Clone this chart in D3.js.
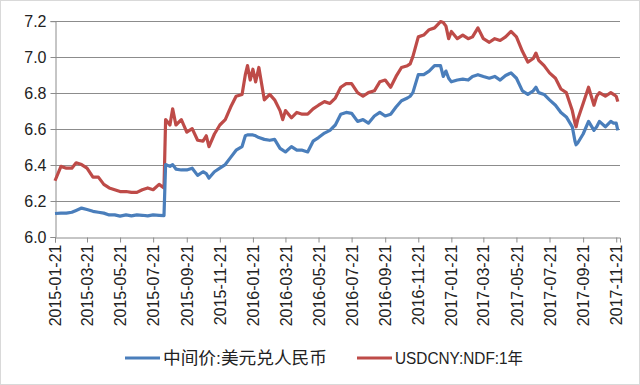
<!DOCTYPE html>
<html>
<head>
<meta charset="utf-8">
<script src="https://cdn.jsdelivr.net/npm/d3@7/dist/d3.min.js"></script>
<style>
  body { margin: 0; background: #fff; }
  svg { display: block; }
</style>
</head>
<body>
<div id="chart"></div>
<script>
(function () {
  const Blue = "#4a7ebb";
  const Red = "#be4b48";

  // dates of the samples (roughly every 10 days)
  const dates = [
    "2015-01-21", "2015-02-01", "2015-02-11", "2015-02-21", "2015-03-01", "2015-03-11", "2015-03-21",
    "2015-04-01", "2015-04-11", "2015-04-21", "2015-05-01", "2015-05-11", "2015-05-21",
    "2015-06-01", "2015-06-11", "2015-06-21", "2015-07-01", "2015-07-11", "2015-07-21",
    "2015-08-01", "2015-08-10", "2015-08-13", "2015-08-21", "2015-08-26", "2015-09-01", "2015-09-11", "2015-09-21",
    "2015-10-01", "2015-10-11", "2015-10-21", "2015-10-27", "2015-11-01", "2015-11-11", "2015-11-21",
    "2015-12-01", "2015-12-11", "2015-12-21",
    "2016-01-01", "2016-01-07", "2016-01-11", "2016-01-16", "2016-01-21", "2016-01-26",
    "2016-02-01", "2016-02-11", "2016-02-21", "2016-03-01", "2016-03-11", "2016-03-16", "2016-03-21",
    "2016-04-01", "2016-04-11", "2016-04-21", "2016-05-01", "2016-05-11", "2016-05-21",
    "2016-06-01", "2016-06-11", "2016-06-21", "2016-07-01", "2016-07-11", "2016-07-21",
    "2016-08-01", "2016-08-11", "2016-08-21", "2016-09-01", "2016-09-11", "2016-09-21",
    "2016-10-01", "2016-10-11", "2016-10-21", "2016-11-01", "2016-11-06", "2016-11-11", "2016-11-21",
    "2016-12-01", "2016-12-11", "2016-12-21",
    "2017-01-01", "2017-01-06", "2017-01-11", "2017-01-16", "2017-01-21",
    "2017-02-01", "2017-02-11", "2017-02-21", "2017-03-01", "2017-03-11", "2017-03-21",
    "2017-04-01", "2017-04-11", "2017-04-21", "2017-05-01", "2017-05-11", "2017-05-21",
    "2017-06-01", "2017-06-11", "2017-06-21", "2017-06-26", "2017-07-01", "2017-07-11", "2017-07-21",
    "2017-08-01", "2017-08-11", "2017-08-21", "2017-09-01", "2017-09-06", "2017-09-08", "2017-09-11", "2017-09-21",
    "2017-10-01", "2017-10-11", "2017-10-16", "2017-10-21", "2017-11-01", "2017-11-11", "2017-11-16", "2017-11-21", "2017-11-24"
  ];

  // 中间价:美元兑人民币
  const midRate = [
    6.128, 6.13, 6.13, 6.135, 6.145, 6.158, 6.15,
    6.14, 6.135, 6.13, 6.12, 6.12, 6.113,
    6.12, 6.115, 6.12, 6.118, 6.115, 6.12,
    6.118, 6.116, 6.40, 6.39, 6.40, 6.375, 6.37, 6.37,
    6.38, 6.34, 6.36, 6.35, 6.325, 6.36, 6.38,
    6.40, 6.44, 6.48,
    6.50, 6.56, 6.565, 6.565, 6.565, 6.56,
    6.55, 6.54, 6.535, 6.54, 6.49, 6.48, 6.47,
    6.50, 6.48, 6.48, 6.47, 6.53, 6.55,
    6.575, 6.59, 6.62, 6.68, 6.69, 6.685,
    6.64, 6.65, 6.63, 6.67, 6.69, 6.67,
    6.68, 6.72, 6.755, 6.77, 6.78, 6.80, 6.90,
    6.90, 6.92, 6.95,
    6.95, 6.89, 6.92, 6.88, 6.86,
    6.87, 6.875, 6.87, 6.89, 6.90, 6.89,
    6.88, 6.89, 6.87, 6.895, 6.91, 6.88,
    6.81, 6.79, 6.81, 6.83, 6.80, 6.79, 6.76,
    6.73, 6.69, 6.665, 6.61, 6.53, 6.51, 6.52, 6.57,
    6.64, 6.59, 6.61, 6.64, 6.61, 6.64, 6.63, 6.63, 6.59
  ];

  // USDCNY:NDF:1年
  const ndf1y = [
    6.31, 6.39, 6.38, 6.38, 6.41, 6.40, 6.38,
    6.33, 6.33, 6.29, 6.27, 6.26, 6.25,
    6.25, 6.245, 6.245, 6.26, 6.27, 6.26,
    6.29, 6.27, 6.65, 6.62, 6.71, 6.62, 6.65, 6.58,
    6.60, 6.535, 6.53, 6.56, 6.50, 6.57, 6.62,
    6.65, 6.72, 6.78,
    6.79, 6.90, 6.95, 6.87, 6.93, 6.86,
    6.94, 6.76, 6.79, 6.76, 6.70, 6.65, 6.70,
    6.66, 6.69, 6.68, 6.68, 6.71, 6.73,
    6.75, 6.74, 6.77, 6.83, 6.85, 6.85,
    6.80, 6.78, 6.80, 6.81, 6.86, 6.87,
    6.83, 6.89, 6.94, 6.95, 6.96, 7.00, 7.11,
    7.12, 7.15, 7.16,
    7.195, 7.19, 7.17, 7.10, 7.14,
    7.10, 7.12, 7.10, 7.11, 7.16, 7.10,
    7.08, 7.10, 7.09, 7.11, 7.14, 7.11,
    7.03, 6.97, 6.99, 7.02, 6.98, 6.95, 6.91,
    6.88, 6.82, 6.80, 6.70, 6.63, 6.61, 6.65, 6.74,
    6.83, 6.73, 6.78, 6.80, 6.78, 6.80, 6.79, 6.78, 6.75
  ];

  const tickLabels = [
    "2015-01-21", "2015-03-21", "2015-05-21", "2015-07-21", "2015-09-21", "2015-11-21",
    "2016-01-21", "2016-03-21", "2016-05-21", "2016-07-21", "2016-09-21", "2016-11-21",
    "2017-01-21", "2017-03-21", "2017-05-21", "2017-07-21", "2017-09-21", "2017-11-21"
  ];
  const yTicks = [6.0, 6.2, 6.4, 6.6, 6.8, 7.0, 7.2];
  const seriesNames = ["中间价:美元兑人民币", "USDCNY:NDF:1年"];

  const parse = d3.timeParse("%Y-%m-%d");

  const W = 640, H = 385;
  const left = 55, right = 620, top = 20.7, bottom = 236.5;

  const svg = d3.select("#chart").append("svg")
    .attr("width", W)
    .attr("height", H);

  // chart border
  svg.append("rect")
    .attr("x", 0.5).attr("y", 0.5)
    .attr("width", W - 1).attr("height", H - 1)
    .attr("fill", "#fff")
    .attr("stroke", "#d9d9d9");

  var x = d3.scaleTime()
    .domain([parse("2015-01-21"), parse("2017-11-28")])
    .range([left, right]);

  var y = d3.scaleLinear().domain([6.0, 7.2]).range([bottom, top]);

  // gridlines
  svg.append("g")
    .selectAll("line")
    .data(yTicks.slice(1))
    .enter()
    .append("line")
    .attr("x1", left).attr("x2", right)
    .attr("y1", function (d) { return Math.round(y(d)) + 0.5; })
    .attr("y2", function (d) { return Math.round(y(d)) + 0.5; })
    .attr("stroke", "#8c8c8c")
    .attr("stroke-width", 1);

  // y axis
  var yAxis = svg.append("g")
    .attr("transform", "translate(" + (left + 0.5) + ",0.5)")
    .call(d3.axisLeft(y).tickValues(yTicks).tickSize(5).tickPadding(4)
      .tickFormat(d3.format(".1f")));
  yAxis.select(".domain").attr("stroke", "#8c8c8c");
  yAxis.selectAll(".tick line").attr("stroke", "#8c8c8c");
  yAxis.selectAll("text")
    .style("font-family", "'Liberation Sans', Arial, sans-serif")
    .style("font-size", "16px")
    .attr("fill", "#222");
  yAxis.selectAll(".tick").attr("transform", function (d) {
    return "translate(0," + Math.round(y(d)) + ")";
  });

  // x axis
  var xAxis = svg.append("g")
    .attr("transform", "translate(0," + (Math.round(bottom) + 0.5) + ")")
    .call(d3.axisBottom(x).tickValues(tickLabels.map(parse)).tickSize(5)
      .tickFormat(d3.timeFormat("%Y-%m-%d")));
  xAxis.select(".domain").attr("stroke", "#8c8c8c");
  xAxis.selectAll(".tick line").attr("stroke", "#8c8c8c");
  xAxis.selectAll("text")
    .style("font-family", "'Liberation Sans', Arial, sans-serif")
    .style("font-size", "16px")
    .attr("fill", "#222")
    .attr("text-anchor", "end")
    .attr("dy", "0.35em")
    .attr("x", -7)
    .attr("y", 0)
    .attr("transform", "rotate(-90)");

  // lines
  var rows = dates.map(function (d, i) {
    return { date: parse(d), mid: midRate[i], ndf: ndf1y[i] };
  });

  var lineMid = d3.line()
    .x(function (d) { return x(d.date); })
    .y(function (d) { return y(d.mid); });
  var lineNdf = d3.line()
    .x(function (d) { return x(d.date); })
    .y(function (d) { return y(d.ndf); });

  svg.append("path")
    .datum(rows)
    .attr("d", lineNdf)
    .attr("fill", "none")
    .attr("stroke", Red)
    .attr("stroke-width", 3.2)
    .attr("stroke-linejoin", "round");

  svg.append("path")
    .datum(rows)
    .attr("d", lineMid)
    .attr("fill", "none")
    .attr("stroke", Blue)
    .attr("stroke-width", 3.2)
    .attr("stroke-linejoin", "round");

  // legend
  var legend = [
    { name: seriesNames[0], color: Blue, x: 125, size: "17px", len: 164 },
    { name: seriesNames[1], color: Red, x: 357, size: "16px", len: 128 }
  ];
  var lg = svg.append("g").selectAll("g")
    .data(legend)
    .enter()
    .append("g")
    .attr("transform", function (d) { return "translate(" + d.x + ",358)"; });
  lg.append("line")
    .attr("x1", 0).attr("x2", 35)
    .attr("stroke", function (d) { return d.color; })
    .attr("stroke-width", 3);
  lg.append("text")
    .attr("dy", "0.35em")
    .style("font-family", "'Liberation Sans', 'Noto Sans CJK SC', sans-serif")
    .style("font-size", function (d) { return d.size; })
    .attr("fill", "#222")
    .text(function (d) { return d.name; })
    .attr("transform", function (d) {
      // squeeze the text to the width it has in the original
      var w = this.getComputedTextLength();
      var k = w > 0 ? d.len / w : 1;
      return "translate(38,0) scale(" + k + ",1)";
    });
})();
</script>
</body>
</html>
